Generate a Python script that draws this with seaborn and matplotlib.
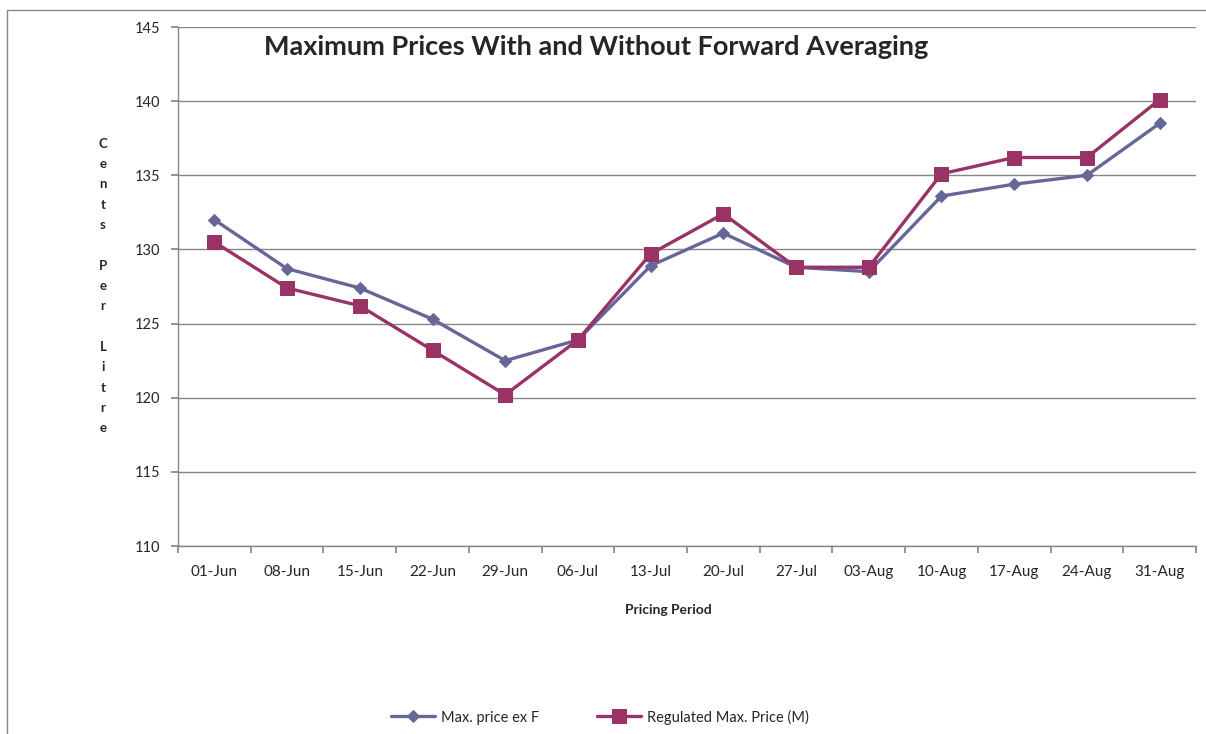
import pandas as pd
import matplotlib.pyplot as plt
import seaborn as sns
from matplotlib.patches import Rectangle

# 数据
periods = ['01-Jun', '08-Jun', '15-Jun', '22-Jun', '29-Jun', '06-Jul', '13-Jul',
           '20-Jul', '27-Jul', '03-Aug', '10-Aug', '17-Aug', '24-Aug', '31-Aug']
max_price_ex_f = [132.0, 128.7, 127.4, 125.3, 122.5, 123.9, 128.9,
                  131.1, 128.8, 128.5, 133.6, 134.4, 135.0, 138.5]
regulated_max = [130.5, 127.4, 126.2, 123.2, 120.2, 123.9, 129.7,
                 132.4, 128.8, 128.8, 135.1, 136.2, 136.2, 140.1]
series_names = ['Max. price ex F', 'Regulated Max. Price (M)']

sns.set_theme(style='white')
plt.rcParams['font.family'] = ['Lato', 'DejaVu Sans']

df = pd.DataFrame({
    'period': periods * 2,
    'x': list(range(len(periods))) * 2,
    'price': max_price_ex_f + regulated_max,
    'series': [series_names[0]] * len(periods) + [series_names[1]] * len(periods),
})

fig = plt.figure(figsize=(12.06, 7.34), dpi=100)
ax = fig.add_axes([0.1476, 0.2561, 0.8441, 0.7071])

# 外框
fig.patches.append(Rectangle((7 / 1206, -0.05), 1.2, 1 - 10 / 734 + 0.05,
                             transform=fig.transFigure, fill=False,
                             edgecolor='#868686', linewidth=1))

palette = {series_names[0]: '#666699', series_names[1]: '#993366'}
markers = {series_names[0]: 'D', series_names[1]: 's'}
sizes = {series_names[0]: 6.5, series_names[1]: 9.5}

for name in series_names:
    sub = df[df['series'] == name]
    sns.lineplot(x='x', y='price', data=sub, ax=ax, color=palette[name],
                 marker=markers[name], markersize=sizes[name],
                 markeredgecolor=palette[name], linewidth=2.4, label=name)

ax.set_xlim(-0.5, len(periods) - 0.5)
ax.set_ylim(110, 145)
ax.set_yticks(range(110, 146, 5))
ax.yaxis.grid(True, color='#868686', linewidth=1)
ax.set_axisbelow(True)

# 分类刻度：刻度线在分界处，标签在中间
ax.set_xticks([i - 0.5 for i in range(len(periods) + 1)])
ax.set_xticklabels([])
ax.set_xticks(range(len(periods)), minor=True)
ax.set_xticklabels(periods, minor=True, fontsize=11)
ax.tick_params(axis='x', which='major', length=5, color='#868686', direction='out', bottom=True)
ax.tick_params(axis='x', which='minor', length=0, pad=14)
ax.tick_params(axis='y', length=5, color='#868686', direction='out', left=True, labelsize=10.5, pad=8)

for s in ['top', 'right']:
    ax.spines[s].set_visible(False)
for s in ['left', 'bottom']:
    ax.spines[s].set_color('#868686')
    ax.spines[s].set_linewidth(1)

ax.set_xlabel('Pricing Period', fontsize=10, fontweight='bold')
ax.set_ylabel('')
ax.xaxis.set_label_coords(0.482, -0.112)

fig.text(596 / 1206, 1 - 47 / 734, 'Maximum Prices With and Without Forward Averaging',
         ha='center', va='center', fontsize=19.5, fontweight='bold')

fig.text(103 / 1206, 1 - 286 / 734, '\n'.join('Cents Per Litre'.replace(' ', '  ')).replace('\n \n \n', '\n\n'),
         ha='center', va='center', fontsize=9.5, fontweight='bold', linespacing=1.83)

ax.legend().remove()
handles, labels = ax.get_legend_handles_labels()
fig.legend(handles, labels, loc='center', bbox_to_anchor=(600 / 1206, 1 - 717 / 734),
           ncol=2, frameon=False, fontsize=10.5, handlelength=3.0, handletextpad=0.4,
           columnspacing=4.0)

plt.savefig('out.png', dpi=100)
